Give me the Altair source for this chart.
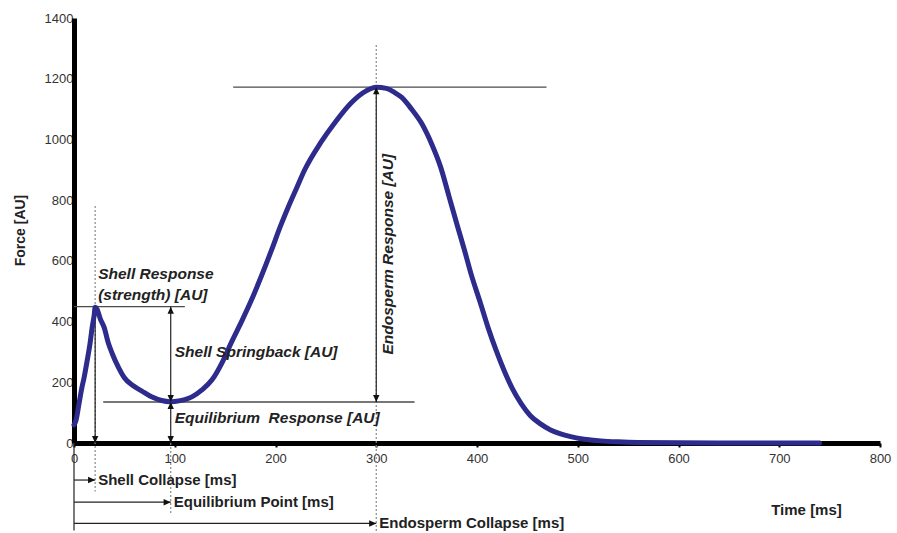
import altair as alt
import pandas as pd

time_ms = [0, 2, 5, 8, 10, 13, 16, 18, 20, 21, 23, 26, 30, 34, 38, 44, 50, 58, 67, 77, 87, 95,
           100, 110, 117, 127, 137, 147, 156, 166, 176, 186, 196, 205, 213, 221, 229, 245, 260,
           275, 290, 300, 310, 318, 325, 335, 345, 355, 364, 372, 381, 388, 394, 403, 411, 419,
           427, 435, 444, 453, 463, 473, 483, 493, 503, 513, 523, 540, 560, 600, 650, 700, 740]
force_au = [60, 75, 130, 185, 215, 270, 330, 380, 420, 447, 440, 410, 380, 330, 294, 250, 215, 190,
            172, 152, 140, 136, 137, 143, 152, 175, 208, 265, 330, 398, 470, 550, 635, 715, 780,
            840, 900, 990, 1060, 1120, 1160, 1172, 1168, 1155, 1139, 1100, 1053, 985, 908, 815,
            710, 630, 558, 465, 380, 305, 238, 180, 129, 90, 63, 43, 30, 21, 14, 10, 7, 4, 2, 1,
            0, 0, 0]

x_ticks = [0, 100, 200, 300, 400, 500, 600, 700, 800]
y_ticks = [0, 200, 400, 600, 800, 1000, 1200, 1400]

# ---- key points ----
shell_t, shell_f = 21, 449
eq_t, eq_f = 96, 135
endo_t, endo_f = 300, 1172

# horizontal reference lines
hline_from = [0, 29, 158]
hline_to = [110, 338, 469]
hline_f = [shell_f, eq_f, endo_f]

# dotted vertical guides
dot_t = [shell_t, eq_t, endo_t]
dot_top = [781, 0, 1311]
dot_bottom = [-160, -232, -295]

# time arrows below axis
time_labels = ["Shell Collapse [ms]", "Equilibrium Point [ms]", "Endosperm Collapse [ms]"]
time_targets = [shell_t, eq_t, endo_t]
time_rows_f = [-122, -195, -265]
bracket_bottom = -288

# italic annotations
ann_labels = ["Shell Response", "(strength) [AU]", "Shell Springback [AU]",
              "Equilibrium\u00a0 Response [AU]"]
ann_t = [24, 24, 100, 100]
ann_f = [556, 486, 301, 83]
endo_label = "Endosperm Response [AU]"
endo_label_t = 312
endo_label_f = 622

FONT = "Liberation Sans, Arial, Helvetica, sans-serif"

xscale = alt.Scale(domain=[0, 800], nice=False, zero=False)
yscale = alt.Scale(domain=[0, 1400], nice=False, zero=False)

x_axis = alt.Axis(values=x_ticks, format="d", grid=False, domainColor="black", domainWidth=5,
                  tickColor="black", tickSize=4, tickWidth=2, labelFont=FONT, labelFontSize=13,
                  labelColor="#333", labelPadding=5, labelFlush=False,
                  title="Time [ms]", titleFont=FONT, titleFontSize=15, titleFontWeight="bold",
                  titleColor="#222", titleX=732, titleY=66, titleAlign="center",
                  titleBaseline="middle")
y_axis = alt.Axis(values=y_ticks, format="d", grid=False, domainColor="black", domainWidth=5,
                  tickSize=0, labelFont=FONT, labelFontSize=13, labelColor="#333",
                  labelPadding=1, labelFlush=False,
                  title="Force [AU]", titleFont=FONT, titleFontSize=14, titleFontWeight="bold",
                  titleColor="#222", titleX=-54, titleY=212, titleAlign="center",
                  titleBaseline="middle", titleAngle=270)

X = alt.X("t:Q", scale=xscale, axis=x_axis)
Y = alt.Y("f:Q", scale=yscale, axis=y_axis)

curve_df = pd.DataFrame({"t": time_ms, "f": force_au})

h_df = pd.DataFrame({"t": hline_from, "t2": hline_to, "f": hline_f})
dot_df = pd.DataFrame({"t": dot_t, "f": dot_top, "f2": dot_bottom})
v_df = pd.DataFrame({
    "t": [shell_t, eq_t, eq_t, endo_t, 0],
    "f": [shell_f, shell_f, eq_f, endo_f, 0],
    "f2": [0, eq_f, 0, eq_f, bracket_bottom],
})
arr_df = pd.DataFrame({"t": [0, 0, 0], "t2": time_targets, "f": time_rows_f})

heads_df = pd.DataFrame({
    "t": [shell_t, eq_t, eq_t, eq_t, eq_t, endo_t, endo_t] + time_targets,
    "f": [0, shell_f, eq_f, eq_f, 0, endo_f, eq_f] + time_rows_f,
    "dir": ["down", "up", "down", "up", "down", "up", "down", "right", "right", "right"],
})
path_down = "M0,0L-0.45,-1L0.45,-1Z"
path_up = "M0,0L-0.45,1L0.45,1Z"
path_right = "M0,0L-1,-0.45L-1,0.45Z"

ann_df = pd.DataFrame({"t": ann_t, "f": ann_f, "label": ann_labels})
endo_df = pd.DataFrame({"t": [endo_label_t], "f": [endo_label_f], "label": [endo_label]})
time_df = pd.DataFrame({"t": time_targets, "f": time_rows_f, "label": time_labels})

dotted = alt.Chart(dot_df).mark_rule(color="#8a8a8a", strokeWidth=1.2, strokeDash=[2, 2]).encode(
    x=X, y=Y, y2="f2:Q")
hlines = alt.Chart(h_df).mark_rule(color="#4a4a4a", strokeWidth=1.3).encode(
    x=X, x2="t2:Q", y=Y)
vlines = alt.Chart(v_df).mark_rule(color="#222", strokeWidth=1.2).encode(
    x=X, y=Y, y2="f2:Q")
tarrows = alt.Chart(arr_df).mark_rule(color="#222", strokeWidth=1.2).encode(
    x=X, x2="t2:Q", y=Y)
curve = alt.Chart(curve_df).mark_line(color="#2d2b8c", strokeWidth=5, interpolate="monotone",
                                      strokeJoin="round", strokeCap="round").encode(x=X, y=Y)
heads = alt.Chart(heads_df).mark_point(filled=True, color="#111", opacity=1, size=200,
                                       strokeWidth=0).encode(
    x=X, y=Y,
    shape=alt.Shape("dir:N", scale=alt.Scale(domain=["down", "up", "right"],
                                            range=[path_down, path_up, path_right]),
                    legend=None))
ann = alt.Chart(ann_df).mark_text(font=FONT, fontSize=15.5, fontStyle="italic", fontWeight="bold",
                                  color="#222", align="left", baseline="middle").encode(
    x=X, y=Y, text="label:N")
endo = alt.Chart(endo_df).mark_text(font=FONT, fontSize=15.5, fontStyle="italic",
                                    fontWeight="bold", color="#222", angle=270, align="center",
                                    baseline="middle").encode(x=X, y=Y, text="label:N")
tlabels = alt.Chart(time_df).mark_text(font=FONT, fontSize=15, fontWeight="bold", color="#222",
                                       align="left", baseline="middle", dx=3).encode(
    x=X, y=Y, text="label:N")

chart = alt.layer(dotted, hlines, vlines, tarrows, curve, heads, ann, endo, tlabels).properties(
    width=806, height=425,
    autosize=alt.AutoSizeParams(type="none"),
    padding={"left": 74, "top": 18, "right": 17, "bottom": 90},
    background="white",
).configure_view(stroke=None)

chart.save("out.html", embed_options={"renderer": "svg", "actions": False})
